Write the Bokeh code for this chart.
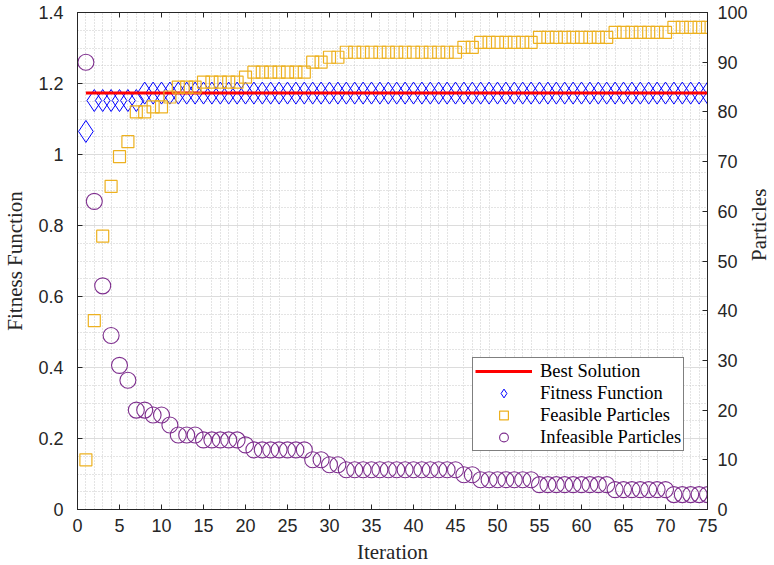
import math
import numpy as np
from bokeh.plotting import figure
from bokeh.models import Range1d, LinearAxis, FixedTicker, Legend, LegendItem
from bokeh.embed import file_html
from bokeh.resources import INLINE

# ---- data ----
iterations = list(range(1, 76))

fitness = [1.065, 1.152, 1.152, 1.152, 1.152, 1.152, 1.152,
           1.173, 1.173, 1.173, 1.173, 1.173, 1.173, 1.173, 1.173, 1.173, 1.173,
           1.173, 1.173, 1.173, 1.173, 1.173, 1.173, 1.173, 1.173, 1.173, 1.173,
           1.173, 1.173, 1.173, 1.173, 1.173, 1.173, 1.173, 1.173, 1.173, 1.173,
           1.173, 1.173, 1.173, 1.173, 1.173, 1.173, 1.173, 1.173, 1.173, 1.173,
           1.173, 1.173, 1.173, 1.173, 1.173, 1.173, 1.173, 1.173, 1.173, 1.173,
           1.173, 1.173, 1.173, 1.173, 1.173, 1.173, 1.173, 1.173, 1.173, 1.173,
           1.173, 1.173, 1.173, 1.173, 1.173, 1.173, 1.173, 1.173]

best_solution = [1.173] * len(iterations)

feasible = [10, 38, 55, 65, 71, 74, 80, 80, 81, 81,
            83, 85, 85, 85, 86, 86, 86, 86, 86, 87,
            88, 88, 88, 88, 88, 88, 88, 90, 90, 91,
            91, 92, 92, 92, 92, 92, 92, 92, 92, 92,
            92, 92, 92, 92, 92, 93, 93, 94, 94, 94,
            94, 94, 94, 94, 95, 95, 95, 95, 95, 95,
            95, 95, 95, 96, 96, 96, 96, 96, 96, 96,
            97, 97, 97, 97, 97]

infeasible = [90, 62, 45, 35, 29, 26, 20, 20, 19, 19,
              17, 15, 15, 15, 14, 14, 14, 14, 14, 13,
              12, 12, 12, 12, 12, 12, 12, 10, 10, 9,
              9, 8, 8, 8, 8, 8, 8, 8, 8, 8,
              8, 8, 8, 8, 8, 7, 7, 6, 6, 6,
              6, 6, 6, 6, 5, 5, 5, 5, 5, 5,
              5, 5, 5, 4, 4, 4, 4, 4, 4, 4,
              3, 3, 3, 3, 3]

x_ticks = [0, 5, 10, 15, 20, 25, 30, 35, 40, 45, 50, 55, 60, 65, 70, 75]
left_ticks = [0, 0.2, 0.4, 0.6, 0.8, 1.0, 1.2, 1.4]
left_labels = ["0", "0.2", "0.4", "0.6", "0.8", "1", "1.2", "1.4"]
right_ticks = [0, 10, 20, 30, 40, 50, 60, 70, 80, 90, 100]

# ---- styling ----
AX = "#262626"
SANS = "Liberation Sans"
SERIF = "Liberation Serif"
TICK_SIZE = "18px"
LABEL_SIZE = "21px"

x_minor = [v for v in np.arange(0, 75.5, 1.0).tolist() if v not in x_ticks]
y_minor = [round(v, 2) for v in np.arange(0, 1.41, 0.05).tolist()]

p = figure(frame_width=630, frame_height=497,
           x_range=Range1d(0, 75), y_range=Range1d(0, 1.4),
           output_backend="svg", toolbar_location=None,
           min_border_left=77, min_border_right=67,
           min_border_top=12, min_border_bottom=56,
           background_fill_color="white", border_fill_color="white")
p.extra_y_ranges = {"right": Range1d(0, 100)}
p.outline_line_color = AX
p.outline_line_width = 1


def style_axis(ax, ticks, tick_in=5):
    ax.ticker = ticks
    ax.axis_line_color = AX
    ax.axis_line_width = 1
    ax.major_tick_line_color = AX
    ax.major_tick_in = tick_in
    ax.major_tick_out = 0
    ax.minor_tick_line_color = None
    ax.major_label_text_font = SANS
    ax.major_label_text_font_size = TICK_SIZE
    ax.major_label_text_color = AX
    ax.axis_label_text_font = SERIF
    ax.axis_label_text_font_size = LABEL_SIZE
    ax.axis_label_text_font_style = "normal"
    ax.axis_label_text_color = AX


xt = FixedTicker(ticks=x_ticks, minor_ticks=x_minor)
yt = FixedTicker(ticks=left_ticks, minor_ticks=y_minor)
rt = FixedTicker(ticks=right_ticks)

xaxis = p.xaxis[0]
style_axis(xaxis, xt)
xaxis.axis_label = "Iteration"
xaxis.major_label_standoff = 5
xaxis.axis_label_standoff = 5

yaxis = p.yaxis[0]
style_axis(yaxis, yt)
yaxis.axis_label = "Fitness Function"
yaxis.major_label_overrides = dict(zip(left_ticks, left_labels))
yaxis.major_label_standoff = 10
yaxis.axis_label_standoff = 8

raxis = LinearAxis(y_range_name="right")
style_axis(raxis, rt)
raxis.axis_label = "Particles"
raxis.axis_label_orientation = math.pi / 2
raxis.major_label_standoff = 10
raxis.axis_label_standoff = 8
p.add_layout(raxis, "right")

# top edge carries tick marks only
taxis = LinearAxis()
style_axis(taxis, xt)
taxis.major_label_overrides = {t: "" for t in x_ticks}
taxis.major_label_text_font_size = "1px"
taxis.major_label_standoff = 0
p.add_layout(taxis, "above")

# grid: solid major rows, dotted minor rows and columns
p.xgrid.grid_line_color = None
p.xgrid.minor_grid_line_color = "#c9c9c9"
p.xgrid.minor_grid_line_dash = "1 2"
p.xgrid.minor_grid_line_width = 1
p.ygrid.grid_line_color = "#dcdcdc"
p.ygrid.grid_line_width = 1
p.ygrid.minor_grid_line_color = "#c9c9c9"
p.ygrid.minor_grid_line_dash = "1 2"
p.ygrid.minor_grid_line_width = 1

# ---- series ----
r_fit = p.scatter(iterations, fitness, marker="diamond", size=22,
                  line_color="#0000ff", fill_color=None, line_width=1)
r_best = p.line(iterations, best_solution, line_color="#ff0000", line_width=3)
r_feas = p.scatter(iterations, feasible, y_range_name="right", marker="square",
                   size=12, line_color="#EDB120", fill_color=None, line_width=1.2)
r_infeas = p.scatter(iterations, infeasible, y_range_name="right", marker="circle",
                     size=16, line_color="#7E2F8E", fill_color=None, line_width=1.1)

legend = Legend(items=[
    LegendItem(label="Best Solution", renderers=[r_best]),
    LegendItem(label="Fitness Function", renderers=[r_fit]),
    LegendItem(label="Feasible Particles", renderers=[r_feas]),
    LegendItem(label="Infeasible Particles", renderers=[r_infeas]),
], location=(395, 58))
legend.label_text_font = SERIF
legend.label_text_font_size = "18.5px"
legend.label_text_color = "#000000"
legend.glyph_width = 57
legend.glyph_height = 22
legend.label_height = 22
legend.spacing = 0
legend.padding = 2
legend.margin = 0
legend.label_standoff = 8
legend.border_line_color = "#000000"
legend.border_line_width = 1
legend.background_fill_color = "white"
legend.background_fill_alpha = 1
p.add_layout(legend)

open("out.html", "w").write(file_html(p, INLINE))
